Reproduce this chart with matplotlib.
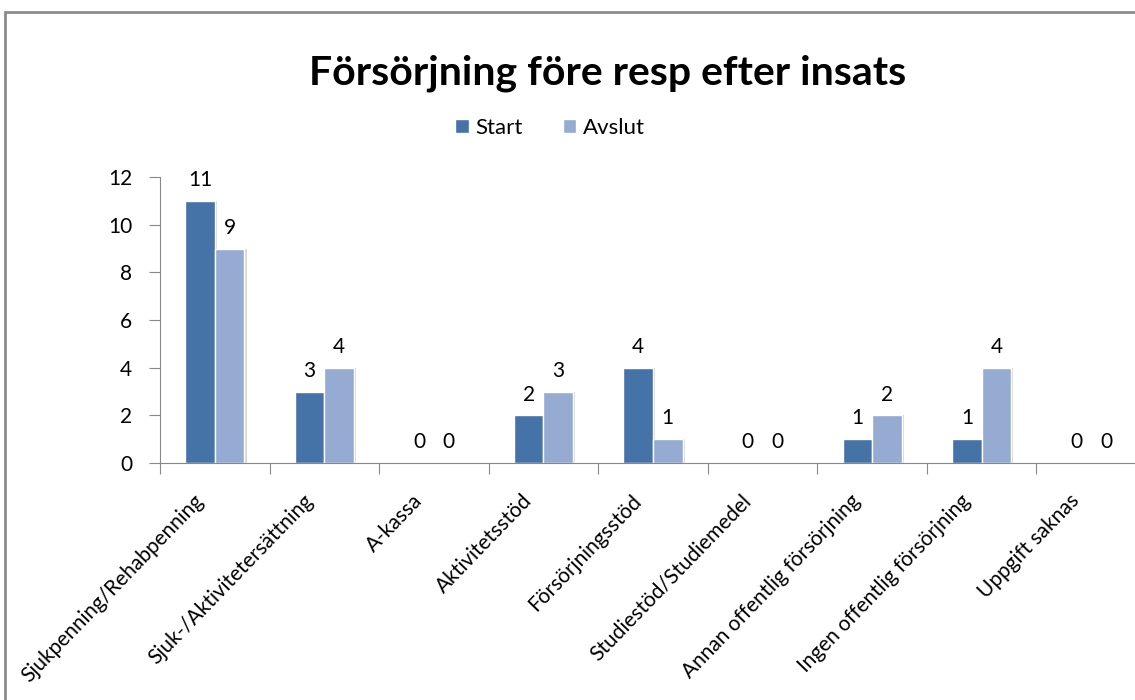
import matplotlib
matplotlib.use('Agg')
import matplotlib.pyplot as plt
import numpy as np
from matplotlib.patches import Rectangle

categories = ['Sjukpenning/Rehabpenning', 'Sjuk-/Aktivitetersättning', 'A-kassa',
              'Aktivitetsstöd', 'Försörjningsstöd', 'Studiestöd/Studiemedel',
              'Annan offentlig försörjning', 'Ingen offentlig försörjning', 'Uppgift saknas']
start = [11, 3, 0, 2, 4, 0, 1, 1, 0]
avslut = [9, 4, 0, 3, 1, 0, 2, 4, 0]
series_names = ['Start', 'Avslut']
yticks = [0, 2, 4, 6, 8, 10, 12]

plt.rcParams['font.family'] = ['Lato', 'DejaVu Sans']

fig = plt.figure(figsize=(11.35, 7), dpi=100)
fig.patches.append(Rectangle((5/1135, -0.1), 1.2, 1.1 - 12/700, transform=fig.transFigure,
                             fill=False, edgecolor='#8c8c8c', linewidth=2))

ax = fig.add_axes([160/1135, 1 - 463/700, (1146 - 160)/1135, (463 - 177)/700])

x = np.arange(len(categories))
w = 0.27
c1 = '#4572a7'
c2 = '#95abd2'
# faint shadow behind the bars
ax.bar(x - w/2 + 0.02, start, w, color='#d8d8d8', zorder=1, linewidth=0)
ax.bar(x + w/2 + 0.02, avslut, w, color='#d8d8d8', zorder=1, linewidth=0)
b1 = ax.bar(x - w/2, start, w, color=c1, edgecolor='white', linewidth=1, label=series_names[0], zorder=2)
b2 = ax.bar(x + w/2, avslut, w, color=c2, edgecolor='white', linewidth=1, label=series_names[1], zorder=2)

for rect, v in zip(b1, start):
    ax.text(rect.get_x() + rect.get_width()/2, v + 0.45, str(v), ha='center', va='bottom', fontsize=15)
for rect, v in zip(b2, avslut):
    ax.text(rect.get_x() + rect.get_width()/2, v + 0.45, str(v), ha='center', va='bottom', fontsize=15)

ax.set_xlim(-0.5, len(categories) - 0.5)
ax.set_ylim(0, 12)
ax.set_yticks(yticks)
ax.set_yticklabels([str(t) for t in yticks], fontsize=15)
ax.set_xticks(np.arange(len(categories) + 1) - 0.5)
ax.set_xticklabels([])
ax.set_xticks(x - 0.2, minor=True)
ax.set_xticklabels(categories, minor=True, rotation=46, ha='right', rotation_mode='anchor', fontsize=15)
ax.tick_params(axis='x', which='minor', length=0, pad=20)
ax.tick_params(axis='x', which='major', length=8, color='#888888', direction='out')
ax.tick_params(axis='y', length=8, color='#888888', direction='out', pad=12)
for s in ['top', 'right']:
    ax.spines[s].set_visible(False)
for s in ['left', 'bottom']:
    ax.spines[s].set_color('#888888')

fig.text(608/1135, 1 - 73/700, 'Försörjning före resp efter insats', ha='center', va='center',
         fontsize=29.5, fontweight='bold')
fig.legend(handles=[b1, b2], labels=series_names, loc='center', bbox_to_anchor=(550/1135, 1 - 128/700),
           ncol=2, frameon=False, fontsize=16, handlelength=0.6, handleheight=0.6, columnspacing=1.8,
           handletextpad=0.3)

fig.savefig('out.png', dpi=100)
